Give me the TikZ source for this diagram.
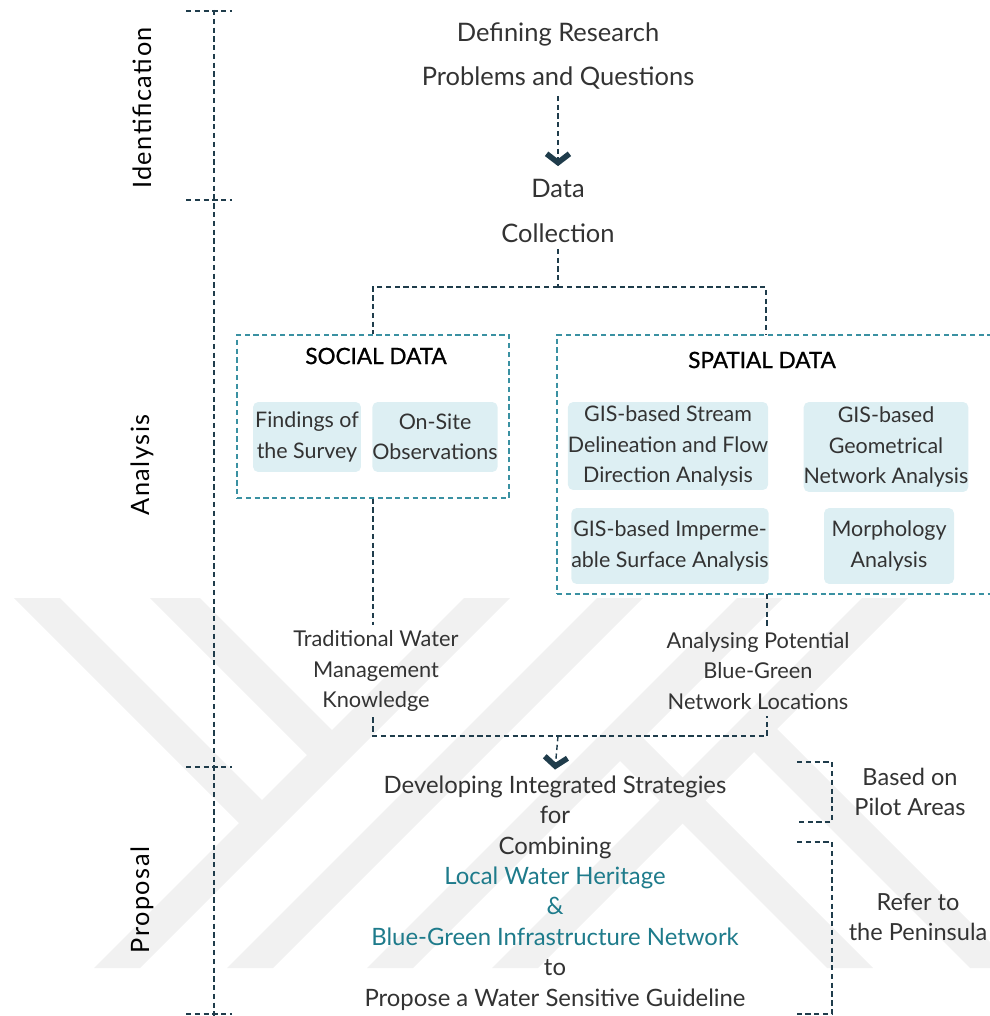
\documentclass[tikz,border=0pt]{standalone}
\usepackage{fontspec}
\setmainfont{Lato}
\newfontfamily\phasefont{Lato}[LetterSpace=6]
\newfontfamily\headfont{Lato}[FakeBold=1]
\usetikzlibrary{arrows.meta,positioning}
\definecolor{navy}{HTML}{1F3C4B}
\definecolor{boxteal}{HTML}{3A91A2}
\definecolor{headteal}{HTML}{1E7B8B}
\definecolor{glow}{HTML}{DDEFF3}
\definecolor{wm}{HTML}{F1F1F1}
\tikzset{
  link/.style={navy,line width=0.8pt,dash pattern=on 3pt off 2pt},
  flow/.style={link,-{Straight Barb[length=5pt,width=13pt,line width=3.2pt]}},
  group/.style={draw=boxteal,line width=0.8pt,dash pattern=on 3pt off 2pt,inner sep=0pt},
  item/.style={fill=glow,rounded corners=3pt,align=center,inner sep=0pt,text=black!80,font=\fontsize{12.2}{17.2}\selectfont},
  txt/.style={align=center,text=black!80,font=\fontsize{12.4}{17.2}\selectfont},
  bigtxt/.style={align=center,text=black!80,font=\fontsize{14.5}{25.5}\selectfont},
  title/.style={font=\headfont\fontsize{12.8}{15}\selectfont},
  phase/.style={rotate=90,font=\phasefont\fontsize{14.4}{16}\selectfont},
}
\begin{document}
\begin{tikzpicture}[x=0.02cm,y=-0.02cm]
\useasboundingbox (0,0) rectangle (989,1016);
% background chevrons
\fill[wm] (94,968) -- (140,968) -- (510,598) -- (464,598) -- cycle;
\fill[wm] (227,968) -- (273,968) -- (643,598) -- (597,598) -- cycle;
\fill[wm] (367,968) -- (413,968) -- (783,598) -- (737,598) -- cycle;
\fill[wm] (492,968) -- (538,968) -- (908,598) -- (862,598) -- cycle;
\fill[wm] (14,598) -- (60,598) -- (273.5,811.5) -- (250.5,834.5) -- cycle;
\fill[wm] (150,598) -- (200,598) -- (343.5,741.5) -- (318.5,766.5) -- cycle;
\fill[wm] (742.5,740.5) -- (765.5,717.5) -- (1016,968) -- (970,968) -- cycle;
\fill[wm] (608.5,749.5) -- (631.5,726.5) -- (873,968) -- (827,968) -- cycle;

% phases on the left
\draw[link] (214,10) -- (214,1016);
\foreach \y in {11,200,767,1014}
  \draw[link] (186,\y) -- (232,\y);
\node[phase] (ident) at (142,108) {Identification};
\node[phase] (anal) at (142,465) {Analysis};
\node[phase] (prop) at (142,900) {Proposal};

% identification
\node[bigtxt] (research) at (558,56) {Defining Research\\Problems and Questions};
\node[bigtxt] (data) at (558,211) {Data\\Collection};
\draw[flow,shorten >=4pt] (research) -- (data);

% the two data groups
\node[group,minimum width=5.44cm,minimum height=3.26cm] (social) at (373,416.5) {};
\node[group,minimum width=9.06cm,minimum height=5.18cm] (spatial) at (783.5,464.5) {};
\node[title] (soctitle) at (376,356) {SOCIAL DATA};
\node[title] (spatitle) at (762,360) {SPATIAL DATA};

\node[item,minimum width=2.16cm,minimum height=1.4cm] (survey) at (307,437) {Findings of\\the Survey};
\node[item,minimum width=2.16cm,minimum height=1.4cm] (onsite) at (435,437) {On-Site\\Observations};
\node[item,minimum width=3.54cm,minimum height=1.76cm] (stream) at (668,446) {GIS-based Stream\\Delineation and Flow\\Direction Analysis};
\node[item,minimum width=3.2cm,minimum height=1.8cm] (geom) at (886,447) {GIS-based\\Geometrical\\Network Analysis};
\node[item,minimum width=3.82cm,minimum height=1.52cm] (imperm) at (670,546) {GIS-based Imperme-\\able Surface Analysis};
\node[item,minimum width=2.6cm,minimum height=1.52cm] (morph) at (889,546) {Morphology\\Analysis};

\coordinate (split) at (558,287);
\coordinate (sp-in) at (766,335);
\coordinate (sp-out) at (767,594);
\coordinate (merge) at (558,736);
\draw[link] (data) -- (split);
\draw[link] (split) -| (social.north);
\draw[link] (split) -| (sp-in);

% results of the analysis
\node[txt] (trad) at (376,671) {Traditional Water\\Management\\Knowledge};
\node[txt] (ana) at (758,671) {Analysing Potential\\Blue-Green\\Network Locations};
\draw[link] (social.south) -- (social.south |- trad.north);
\draw[link] (sp-out) -- (sp-out |- ana.north);
\draw[link] (trad.south -| social.south) |- (merge) -| (sp-out |- ana.south);

% proposal
\node[txt,font=\fontsize{13.6}{17.3}\selectfont] (dev) at (555,893) {Developing Integrated Strategies\\for\\Combining\\
  {\color{headteal}Local Water Heritage}\\{\color{headteal}\&}\\{\color{headteal}Blue-Green Infrastructure Network}\\to\\Propose a Water Sensitive Guideline};
\draw[flow] (merge) -- (dev.north);

\draw[link] (797,762) -- (832,762) -- (832,822) -- (797,822);
\draw[link] (797,842) -- (832,842) -- (832,1014) -- (797,1014);
\node[txt,font=\fontsize{13.4}{17.2}\selectfont] (pilot) at (910,792) {Based on\\Pilot Areas};
\node[txt,font=\fontsize{13.4}{17.2}\selectfont] (penin) at (918,917) {Refer to\\the Peninsula};
\end{tikzpicture}
\end{document}
